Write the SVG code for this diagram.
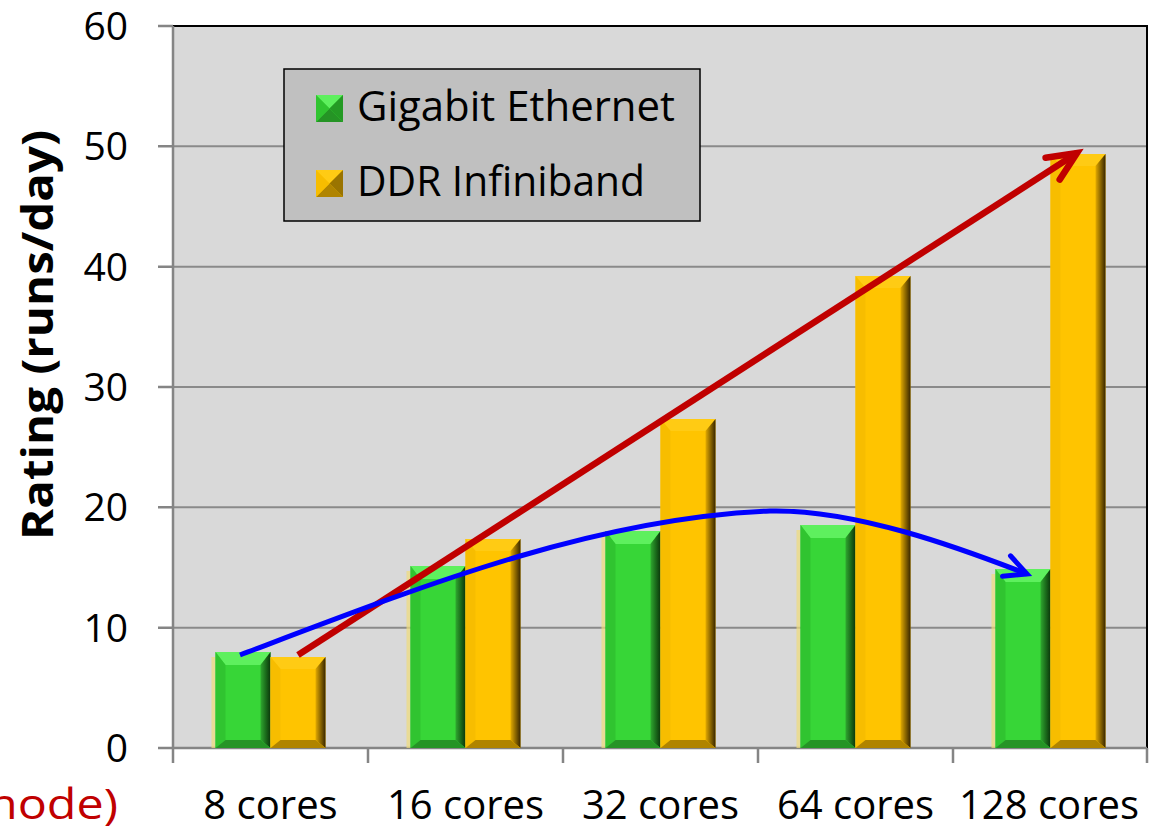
<svg xmlns="http://www.w3.org/2000/svg" width="1153" height="831" viewBox="0 0 1153 831">
<defs>
<style>
text{font-family:"Open Sans","Liberation Sans",sans-serif;fill:#000}
.tick{font-size:39px;text-anchor:end}
.xl{font-size:40px;text-anchor:middle}
.grid{stroke:#8a8a8a;stroke-width:2}
.ax{stroke:#858585;stroke-width:2.5;fill:none}
.gm{fill:#37d637}.gt{fill:#5ef05e}.gl{fill:#30c430}.gb{fill:#259425}.gr{fill:url(#gGR)}
.ym{fill:#ffc400}.yt{fill:#ffcb14}.yl{fill:#f7bd00}.yb{fill:#b08400}.yr{fill:url(#gYR)}
.glow{fill:#f0dc7a;opacity:.7}
</style>
<linearGradient id="gGR" x1="0" y1="0" x2="1" y2="0"><stop offset="0" stop-color="#2fa82f"/><stop offset="1" stop-color="#0a360a"/></linearGradient>
<linearGradient id="gYR" x1="0" y1="0" x2="1" y2="0"><stop offset="0" stop-color="#e2aa00"/><stop offset="1" stop-color="#382600"/></linearGradient>
<marker id="mRed" markerUnits="userSpaceOnUse" viewBox="-40 -25 50 50" markerWidth="50" markerHeight="50" refX="0" refY="0" orient="auto" overflow="visible"><path d="M-29,-13 L0,0 L-29,13" fill="none" stroke="#c00000" stroke-width="6.5" stroke-linecap="round"/></marker>
<marker id="mBlue" markerUnits="userSpaceOnUse" viewBox="-40 -25 50 50" markerWidth="50" markerHeight="50" refX="0" refY="0" orient="auto" overflow="visible"><path d="M-22,-11 L0,0 L-22,11" fill="none" stroke="#0000ff" stroke-width="5" stroke-linecap="round"/></marker>
</defs>
<rect width="1153" height="831" fill="#fff"/>
<g id="plot">
<rect x="173" y="26" width="974" height="722" fill="#d9d9d9"/>
<line class="grid" x1="173" y1="146.3" x2="1147" y2="146.3"/>
<line class="grid" x1="173" y1="266.7" x2="1147" y2="266.7"/>
<line class="grid" x1="173" y1="387" x2="1147" y2="387"/>
<line class="grid" x1="173" y1="507.3" x2="1147" y2="507.3"/>
<line class="grid" x1="173" y1="627.7" x2="1147" y2="627.7"/>
<path d="M173,26 H1147 V748" fill="none" stroke="#000" stroke-width="2"/>
</g>
<g id="axes">
<path class="ax" d="M173,26 V763 M158,26 H173 M158,146.3 H173 M158,266.7 H173 M158,387 H173 M158,507.3 H173 M158,627.7 H173 M158,748 H1147 M368,748 V763 M563,748 V763 M758,748 V763 M953,748 V763 M1147,748 V763"/>
<text class="tick" x="128" y="40">60</text>
<text class="tick" x="128" y="160">50</text>
<text class="tick" x="128" y="281">40</text>
<text class="tick" x="128" y="401">30</text>
<text class="tick" x="128" y="521">20</text>
<text class="tick" x="128" y="642">10</text>
<text class="tick" x="128" y="762">0</text>
<text class="xl" x="270.5" y="819">8 cores</text>
<text class="xl" x="465.5" y="819">16 cores</text>
<text class="xl" x="660.5" y="819">32 cores</text>
<text class="xl" x="855.5" y="819">64 cores</text>
<text class="xl" x="1049" y="819">128 cores</text>
<text transform="translate(53,335) rotate(-90)" text-anchor="middle" font-weight="bold" font-size="43" textLength="410" lengthAdjust="spacingAndGlyphs">Rating (runs/day)</text>
<text x="-12" y="819" font-size="42" style="fill:#c00000" textLength="130" lengthAdjust="spacingAndGlyphs">node)</text>
</g>
<g id="bars-gigabit">
<g id="g8"><rect class="glow" x="211.5" y="657" width="4" height="91"/><rect class="gm" x="215.5" y="652" width="55" height="96"/><polygon class="gt" points="215.5,652 270.5,652 260.5,665 225.5,665"/><polygon class="gl" points="215.5,652 225.5,665 225.5,740 215.5,748"/><polygon class="gr" points="270.5,652 270.5,748 260.5,740 260.5,665"/><polygon class="gb" points="215.5,748 270.5,748 260.5,740 225.5,740"/></g>
<g id="g16"><rect class="glow" x="406.5" y="571" width="4" height="177"/><rect class="gm" x="410.5" y="566" width="55" height="182"/><polygon class="gt" points="410.5,566 465.5,566 455.5,579 420.5,579"/><polygon class="gl" points="410.5,566 420.5,579 420.5,740 410.5,748"/><polygon class="gr" points="465.5,566 465.5,748 455.5,740 455.5,579"/><polygon class="gb" points="410.5,748 465.5,748 455.5,740 420.5,740"/></g>
<g id="g32"><rect class="glow" x="601.5" y="536" width="4" height="212"/><rect class="gm" x="605.5" y="531" width="55" height="217"/><polygon class="gt" points="605.5,531 660.5,531 650.5,544 615.5,544"/><polygon class="gl" points="605.5,531 615.5,544 615.5,740 605.5,748"/><polygon class="gr" points="660.5,531 660.5,748 650.5,740 650.5,544"/><polygon class="gb" points="605.5,748 660.5,748 650.5,740 615.5,740"/></g>
<g id="g64"><rect class="glow" x="796.5" y="530" width="4" height="218"/><rect class="gm" x="800.5" y="525" width="55" height="223"/><polygon class="gt" points="800.5,525 855.5,525 845.5,538 810.5,538"/><polygon class="gl" points="800.5,525 810.5,538 810.5,740 800.5,748"/><polygon class="gr" points="855.5,525 855.5,748 845.5,740 845.5,538"/><polygon class="gb" points="800.5,748 855.5,748 845.5,740 810.5,740"/></g>
<g id="g128"><rect class="glow" x="991.5" y="574" width="4" height="174"/><rect class="gm" x="995.5" y="569" width="55" height="179"/><polygon class="gt" points="995.5,569 1050.5,569 1040.5,582 1005.5,582"/><polygon class="gl" points="995.5,569 1005.5,582 1005.5,740 995.5,748"/><polygon class="gr" points="1050.5,569 1050.5,748 1040.5,740 1040.5,582"/><polygon class="gb" points="995.5,748 1050.5,748 1040.5,740 1005.5,740"/></g>
</g>
<g id="bars-infiniband">
<g id="y8"><rect class="ym" x="270.5" y="657" width="55" height="91"/><polygon class="yt" points="270.5,657 325.5,657 315.5,669 280.5,669"/><polygon class="yl" points="270.5,657 280.5,669 280.5,740 270.5,748"/><polygon class="yr" points="325.5,657 325.5,748 315.5,740 315.5,669"/><polygon class="yb" points="270.5,748 325.5,748 315.5,740 280.5,740"/></g>
<g id="y16"><rect class="ym" x="465.5" y="539" width="55" height="209"/><polygon class="yt" points="465.5,539 520.5,539 510.5,551 475.5,551"/><polygon class="yl" points="465.5,539 475.5,551 475.5,740 465.5,748"/><polygon class="yr" points="520.5,539 520.5,748 510.5,740 510.5,551"/><polygon class="yb" points="465.5,748 520.5,748 510.5,740 475.5,740"/></g>
<g id="y32"><rect class="ym" x="660.5" y="419" width="55" height="329"/><polygon class="yt" points="660.5,419 715.5,419 705.5,431 670.5,431"/><polygon class="yl" points="660.5,419 670.5,431 670.5,740 660.5,748"/><polygon class="yr" points="715.5,419 715.5,748 705.5,740 705.5,431"/><polygon class="yb" points="660.5,748 715.5,748 705.5,740 670.5,740"/></g>
<g id="y64"><rect class="ym" x="855.5" y="276" width="55" height="472"/><polygon class="yt" points="855.5,276 910.5,276 900.5,288 865.5,288"/><polygon class="yl" points="855.5,276 865.5,288 865.5,740 855.5,748"/><polygon class="yr" points="910.5,276 910.5,748 900.5,740 900.5,288"/><polygon class="yb" points="855.5,748 910.5,748 900.5,740 865.5,740"/></g>
<g id="y128"><rect class="ym" x="1050.5" y="154" width="55" height="594"/><polygon class="yt" points="1050.5,154 1105.5,154 1095.5,166 1060.5,166"/><polygon class="yl" points="1050.5,154 1060.5,166 1060.5,740 1050.5,748"/><polygon class="yr" points="1105.5,154 1105.5,748 1095.5,740 1095.5,166"/><polygon class="yb" points="1050.5,748 1105.5,748 1095.5,740 1060.5,740"/></g>
</g>
<g id="legend">
<rect x="284" y="69" width="416" height="152" fill="#c0c0c0" stroke="#000" stroke-width="1.5"/>
<g id="legend-green"><rect x="316" y="95" width="27" height="27" class="gm"/><polygon class="gt" points="316,95 343,95 329.5,108.5"/><polygon class="gb" points="316,122 343,122 329.5,108.5"/><polygon class="gl" points="316,95 316,122 329.5,108.5"/><polygon fill="#249a24" points="343,95 343,122 329.5,108.5"/></g>
<text x="357" y="121" font-size="42" textLength="318" lengthAdjust="spacingAndGlyphs">Gigabit Ethernet</text>
<g id="legend-yellow"><rect x="316" y="170" width="27" height="27" class="ym"/><polygon class="yt" points="316,170 343,170 329.5,183.5"/><polygon class="yb" points="316,197 343,197 329.5,183.5"/><polygon class="yl" points="316,170 316,197 329.5,183.5"/><polygon fill="#9a7400" points="343,170 343,197 329.5,183.5"/></g>
<text x="357" y="196" font-size="42" textLength="288" lengthAdjust="spacingAndGlyphs">DDR Infiniband</text>
</g>
<g id="connectors">
<line x1="298" y1="655" x2="1077" y2="153" stroke="#c00000" stroke-width="6.5" marker-end="url(#mRed)"/>
<path d="M240,655 C417,588 593,518 770,511 C855,509 960,548 1027,574" fill="none" stroke="#0000ff" stroke-width="5" marker-end="url(#mBlue)"/>
</g>
</svg>
